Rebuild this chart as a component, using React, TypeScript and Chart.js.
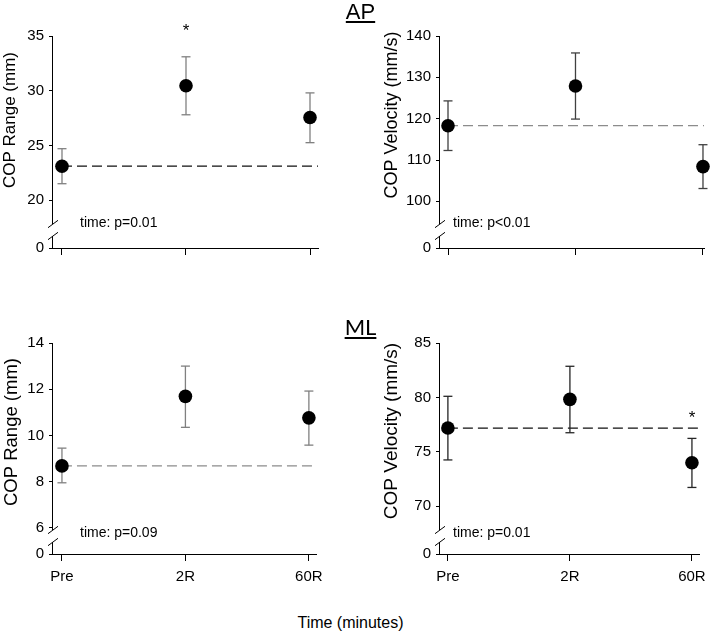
import React, { useEffect, useRef } from 'react';
import { Chart, registerables } from 'chart.js';

Chart.register(...registerables);
Chart.defaults.font.family = '"Liberation Sans", Arial, sans-serif';
Chart.defaults.color = '#000';

// ---- data ----
const timeLabels = ['Pre', '2R', '60R'];
const timeIndex = [0, 1, 2];

// AP – COP range (mm)
const apRangeMean = [23.1, 30.45, 27.55];
const apRangeLow = [21.5, 27.8, 25.25];
const apRangeHigh = [24.7, 33.1, 29.8];
const apRangeTicks = [20, 25, 30, 35];
const apRangeSig = [null, 35.9, null];
const apRangeStat = 'time: p=0.01';

// AP – COP velocity (mm/s)
const apVelMean = [118.3, 127.9, 108.4];
const apVelLow = [112.3, 119.9, 103.1];
const apVelHigh = [124.3, 135.9, 113.7];
const apVelTicks = [100, 110, 120, 130, 140];
const apVelSig = [null, null, null];
const apVelStat = 'time: p<0.01';

// ML – COP range (mm)
const mlRangeMean = [8.68, 11.69, 10.76];
const mlRangeLow = [7.95, 10.35, 9.58];
const mlRangeHigh = [9.45, 13.0, 11.92];
const mlRangeTicks = [6, 8, 10, 12, 14];
const mlRangeSig = [null, null, null];
const mlRangeStat = 'time: p=0.09';

// ML – COP velocity (mm/s)
const mlVelMean = [77.18, 79.82, 73.99];
const mlVelLow = [74.25, 76.75, 71.72];
const mlVelHigh = [80.1, 82.86, 76.23];
const mlVelTicks = [70, 75, 80, 85];
const mlVelSig = [null, null, 78.5];
const mlVelStat = 'time: p=0.01';

type Spec = {
  key: string;
  left: number; top: number; w: number; h: number;
  padTop: number; padRight: number; yAxisWidth: number; xAxisHeight: number;
  wTop: number; wBot: number;
  yMin: number; yMax: number; xMin: number; xMax: number;
  mean: number[]; low: number[]; high: number[]; ticks: number[]; sig: (number | null)[]; stat: string;
  showX: boolean;
  title: string; titleSize: number; titleX: number; titleY: number;
  statDx: number; statDy: number;
  errColor: string; dashColor: string;
};

const panels: Spec[] = [
  {
    key: 'apRange', left: 0, top: 0, w: 330, h: 268,
    padTop: 36, padRight: 12, yAxisWidth: 52, xAxisHeight: 20, wTop: 186, wBot: 26,
    yMin: 18, yMax: 35, xMin: -0.0806, xMax: 2.0645,
    mean: apRangeMean, low: apRangeLow, high: apRangeHigh, ticks: apRangeTicks, sig: apRangeSig, stat: apRangeStat,
    showX: false, title: 'COP Range (mm)', titleSize: 17, titleX: 10, titleY: 120,
    statDx: 28, statDy: 25, errColor: '#808080', dashColor: '#111',
  },
  {
    key: 'apVel', left: 370, top: 0, w: 343, h: 268,
    padTop: 36, padRight: 9, yAxisWidth: 69, xAxisHeight: 20, wTop: 186, wBot: 26,
    yMin: 95, yMax: 140, xMin: -0.0706, xMax: 2.008,
    mean: apVelMean, low: apVelLow, high: apVelHigh, ticks: apVelTicks, sig: apVelSig, stat: apVelStat,
    showX: false, title: 'COP Velocity (mm/s)', titleSize: 18, titleX: 22, titleY: 115,
    statDx: 14, statDy: 25, errColor: '#404040', dashColor: '#8c8c8c',
  },
  {
    key: 'mlRange', left: 0, top: 300, w: 330, h: 300,
    padTop: 43, padRight: 12, yAxisWidth: 52, xAxisHeight: 46, wTop: 186, wBot: 25,
    yMin: 5.95, yMax: 14, xMin: -0.0806, xMax: 2.0645,
    mean: mlRangeMean, low: mlRangeLow, high: mlRangeHigh, ticks: mlRangeTicks, sig: mlRangeSig, stat: mlRangeStat,
    showX: true, title: 'COP Range (mm)', titleSize: 18.5, titleX: 12, titleY: 132,
    statDx: 28, statDy: 21, errColor: '#808080', dashColor: '#8c8c8c',
  },
  {
    key: 'mlVel', left: 370, top: 300, w: 343, h: 300,
    padTop: 43, padRight: 10, yAxisWidth: 69, xAxisHeight: 46, wTop: 186, wBot: 25,
    yMin: 67.9, yMax: 85, xMin: -0.0729, xMax: 2.0648,
    mean: mlVelMean, low: mlVelLow, high: mlVelHigh, ticks: mlVelTicks, sig: mlVelSig, stat: mlVelStat,
    showX: true, title: 'COP Velocity (mm/s)', titleSize: 19, titleX: 22, titleY: 131,
    statDx: 14, statDy: 21, errColor: '#262626', dashColor: '#111',
  },
];

function decorPlugin(p: Spec) {
  return {
    id: 'decor_' + p.key,
    afterDraw(chart: any) {
      const ctx = chart.ctx as CanvasRenderingContext2D;
      const xs = chart.scales.x;
      const ys = chart.scales.y;
      const axX = chart.chartArea.left;
      const base = chart.chartArea.bottom;
      const s1 = base - 24;
      const s2 = base - 12;
      ctx.save();
      // axis break
      ctx.fillStyle = '#fff';
      ctx.fillRect(axX - 1.5, s1, 4, s2 - s1);
      ctx.strokeStyle = '#000';
      ctx.lineWidth = 1;
      ctx.beginPath();
      for (const s of [s1, s2]) {
        ctx.moveTo(axX - 4, s + 3.7);
        ctx.lineTo(axX + 6, s - 3.7);
      }
      ctx.stroke();
      // statistics text
      ctx.fillStyle = '#000';
      ctx.font = '14px "Liberation Sans", Arial, sans-serif';
      ctx.textAlign = 'left';
      ctx.textBaseline = 'middle';
      ctx.fillText(p.stat, axX + p.statDx, base - p.statDy);
      // significance asterisks
      ctx.font = '17px "Liberation Sans", Arial, sans-serif';
      ctx.textAlign = 'center';
      ctx.textBaseline = 'alphabetic';
      p.sig.forEach((v, i) => {
        if (v == null) return;
        ctx.fillText('*', xs.getPixelForValue(timeIndex[i]), ys.getPixelForValue(v) + 9.5);
      });
      // y-axis title
      ctx.translate(p.titleX, p.titleY);
      ctx.rotate(-Math.PI / 2);
      ctx.font = `${p.titleSize}px "Liberation Sans", Arial, sans-serif`;
      ctx.textAlign = 'center';
      ctx.textBaseline = 'middle';
      ctx.fillText(p.title, 0, 0);
      ctx.restore();
    },
  };
}

function buildConfig(p: Spec): any {
  const meanData = p.mean.map((y, i) => ({ x: timeIndex[i], y }));
  const errData = p.mean.flatMap((_, i) => [
    { x: timeIndex[i], y: p.low[i] },
    { x: timeIndex[i], y: p.high[i] },
    { x: timeIndex[i], y: null },
  ]);
  const capData = p.mean.flatMap((_, i) => [
    { x: timeIndex[i], y: p.low[i] },
    { x: timeIndex[i], y: p.high[i] },
  ]);
  const baseData = [
    { x: timeIndex[0], y: p.mean[0] },
    { x: p.xMax, y: p.mean[0] },
  ];
  const axes = { xAxisID: 'x', yAxisID: 'y' };
  const yCommon = {
    type: 'linear',
    position: 'left',
    stack: 'v',
    bounds: 'data',
    afterFit: (s: any) => { s.width = p.yAxisWidth; },
    border: { display: true, color: '#000', width: 1 },
    grid: { display: true, drawOnChartArea: false, drawTicks: true, tickLength: 3, color: '#000' },
    ticks: { color: '#000', font: { size: 15 }, padding: 5, autoSkip: false },
  };
  return {
    type: 'scatter',
    data: {
      datasets: [
        {
          ...axes, label: 'baseline', data: baseData, showLine: true, borderColor: p.dashColor, borderWidth: 1.3,
          borderDash: [10, 5], pointRadius: 0, clip: false, order: 4,
        },
        {
          ...axes, label: 'sd', data: errData, showLine: true, spanGaps: false, borderColor: p.errColor, borderWidth: 1.3,
          pointRadius: 0, clip: false, order: 3,
        },
        {
          ...axes, label: 'caps', data: capData, showLine: false, pointStyle: 'line', pointRadius: 4.5,
          pointBorderColor: p.errColor, borderColor: p.errColor, pointBorderWidth: 1.3, clip: false, order: 2,
        },
        {
          ...axes, label: 'mean', data: meanData, showLine: false, pointStyle: 'circle', pointRadius: 6.8,
          pointBackgroundColor: '#000', pointBorderColor: '#000', pointBorderWidth: 0, clip: false, order: 1,
        },
      ],
    },
    options: {
      responsive: false,
      animation: false,
      events: [],
      layout: { padding: { top: p.padTop, right: p.padRight, left: 0, bottom: 0 } },
      plugins: { legend: { display: false }, tooltip: { enabled: false } },
      scales: {
        yb: {
          ...yCommon,
          stackWeight: p.wBot,
          min: 0,
          max: 1,
          afterBuildTicks: (s: any) => { s.ticks = [{ value: 0 }]; },
        },
        y: {
          ...yCommon,
          stackWeight: p.wTop,
          min: p.yMin,
          max: p.yMax,
          afterBuildTicks: (s: any) => { s.ticks = p.ticks.map((v) => ({ value: v })); },
        },
        x: {
          type: 'linear',
          position: 'bottom',
          min: p.xMin,
          max: p.xMax,
          bounds: 'data',
          afterBuildTicks: (s: any) => { s.ticks = timeIndex.map((v) => ({ value: v })); },
          afterFit: (s: any) => { s.height = p.xAxisHeight; },
          border: { display: true, color: '#000', width: 1 },
          grid: { display: true, drawOnChartArea: false, drawTicks: true, tickLength: 7, color: '#000' },
          ticks: {
            display: p.showX,
            color: '#000',
            font: { size: 15 },
            padding: 7,
            maxRotation: 0,
            autoSkip: false,
            callback: (v: number) => timeLabels[timeIndex.indexOf(v)] ?? '',
          },
        },
      },
    },
    plugins: [decorPlugin(p)],
  };
}

function PanelChart({ p }: { p: Spec }) {
  const ref = useRef<HTMLCanvasElement>(null);
  useEffect(() => {
    const chart = new Chart(ref.current as HTMLCanvasElement, buildConfig(p));
    return () => chart.destroy();
  }, [p]);
  return (
    <canvas
      ref={ref}
      width={p.w}
      height={p.h}
      style={{ position: 'absolute', left: p.left, top: p.top, width: p.w, height: p.h }}
    />
  );
}

const headStyle: React.CSSProperties = {
  position: 'absolute',
  left: 300,
  width: 121,
  textAlign: 'center',
  fontSize: 22,
  lineHeight: '22px',
  fontFamily: '"Liberation Sans", Arial, sans-serif',
  color: '#000',
};
const underline: React.CSSProperties = {
  textDecoration: 'underline',
  textDecorationThickness: '2px',
  textUnderlineOffset: '2px',
};

export default function App() {
  return (
    <div style={{ position: 'fixed', left: 0, top: 0, width: 713, height: 636, background: '#fff', overflow: 'hidden' }}>
      {panels.map((p) => (
        <PanelChart key={p.key} p={p} />
      ))}
      <div style={{ ...headStyle, top: 1 }}><span style={underline}>AP</span></div>
      <div style={{ ...headStyle, top: 316, fontFamily: 'Lato, "Liberation Sans", sans-serif' }}><span style={underline}>ML</span></div>
      <div
        style={{
          position: 'absolute', left: 290, top: 615, width: 121, textAlign: 'center',
          fontSize: 16, lineHeight: '16px', fontFamily: '"Liberation Sans", Arial, sans-serif', color: '#000',
        }}
      >
        Time (minutes)
      </div>
    </div>
  );
}
